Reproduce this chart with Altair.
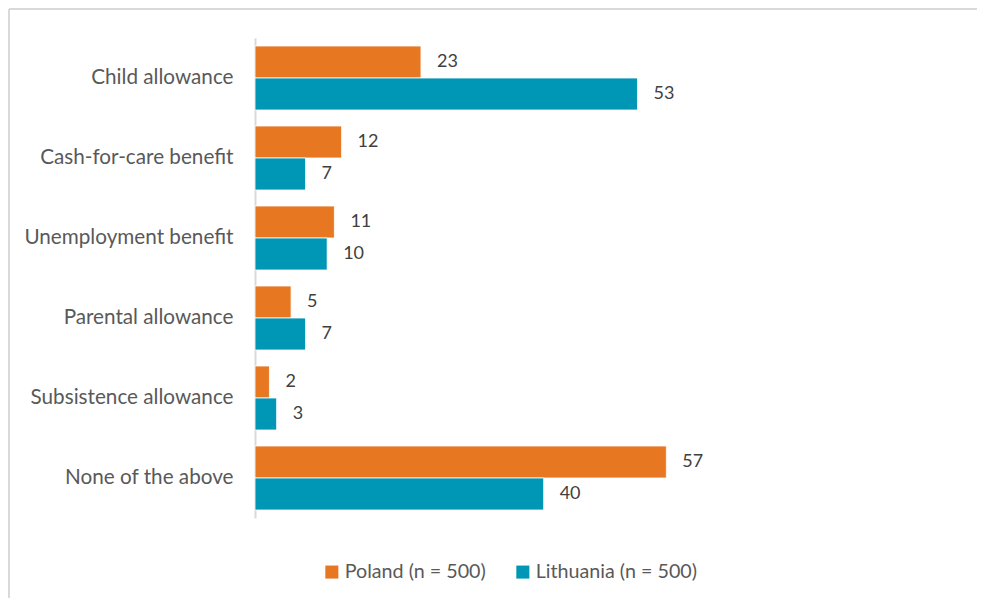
import altair as alt
import pandas as pd

categories = ["Child allowance", "Cash-for-care benefit", "Unemployment benefit",
              "Parental allowance", "Subsistence allowance", "None of the above"]
poland = [23, 12, 11, 5, 2, 57]
lithuania = [53, 7, 10, 7, 3, 40]
series = ["Poland (n = 500)", "Lithuania (n = 500)"]
colors = ["#E87722", "#0096B5"]

rows = []
for c, p, l in zip(categories, poland, lithuania):
    rows.append({"category": c, "series": series[0], "value": p})
    rows.append({"category": c, "series": series[1], "value": l})
df = pd.DataFrame(rows)

W, H = 433, 480
FONT = "Lato"

y_enc = alt.Y("category:N", sort=categories,
              scale=alt.Scale(paddingInner=0.2, paddingOuter=0.1),
              axis=alt.Axis(title=None, labelFontSize=20.7, labelColor="#595959",
                            labelPadding=22, ticks=False, domainColor="#d9d9d9",
                            domainWidth=2, labelFont=FONT, labelLimit=400))
x_enc = alt.X("value:Q", scale=alt.Scale(domain=[0, 60]), axis=None)
yoff = alt.YOffset("series:N", sort=series)
color_enc = alt.Color("series:N", sort=series,
                      scale=alt.Scale(domain=series, range=colors),
                      legend=alt.Legend(title=None, orient="none", legendX=67, legendY=524,
                                        direction="horizontal", symbolType="square",
                                        symbolSize=170, symbolStrokeWidth=0,
                                        labelFontSize=19.7, labelColor="#595959",
                                        labelFont=FONT, columnPadding=27, labelOffset=3,
                                        labelLimit=400))

base = alt.Chart(df)
bars = base.mark_bar(stroke="white", strokeWidth=0.8).encode(
    y=y_enc, x=x_enc, yOffset=yoff, color=color_enc)
labels = base.mark_text(align="left", baseline="middle", dx=16, fontSize=18,
                        color="#404040", font=FONT).encode(
    y=alt.Y("category:N", sort=categories), x="value:Q", yOffset=yoff,
    text="value:Q")

frame_df = pd.DataFrame({"k": [0]})
left_rule = alt.Chart(frame_df).mark_rule(color="#d9d9d9", strokeWidth=2).encode(
    x=alt.value(-246), y=alt.value(-29), y2=alt.value(560))
top_rule = alt.Chart(frame_df).mark_rule(color="#d9d9d9", strokeWidth=2).encode(
    x=alt.value(-246), x2=alt.value(722), y=alt.value(-29))

chart = alt.layer(bars, labels, left_rule, top_rule).properties(
    width=W, height=H,
    padding={"left": 0, "top": 0, "right": 0, "bottom": 0}
).configure(font=FONT).configure_view(strokeWidth=0, stroke="transparent")

chart.save("out.html", embed_options={"renderer": "svg", "actions": False})
